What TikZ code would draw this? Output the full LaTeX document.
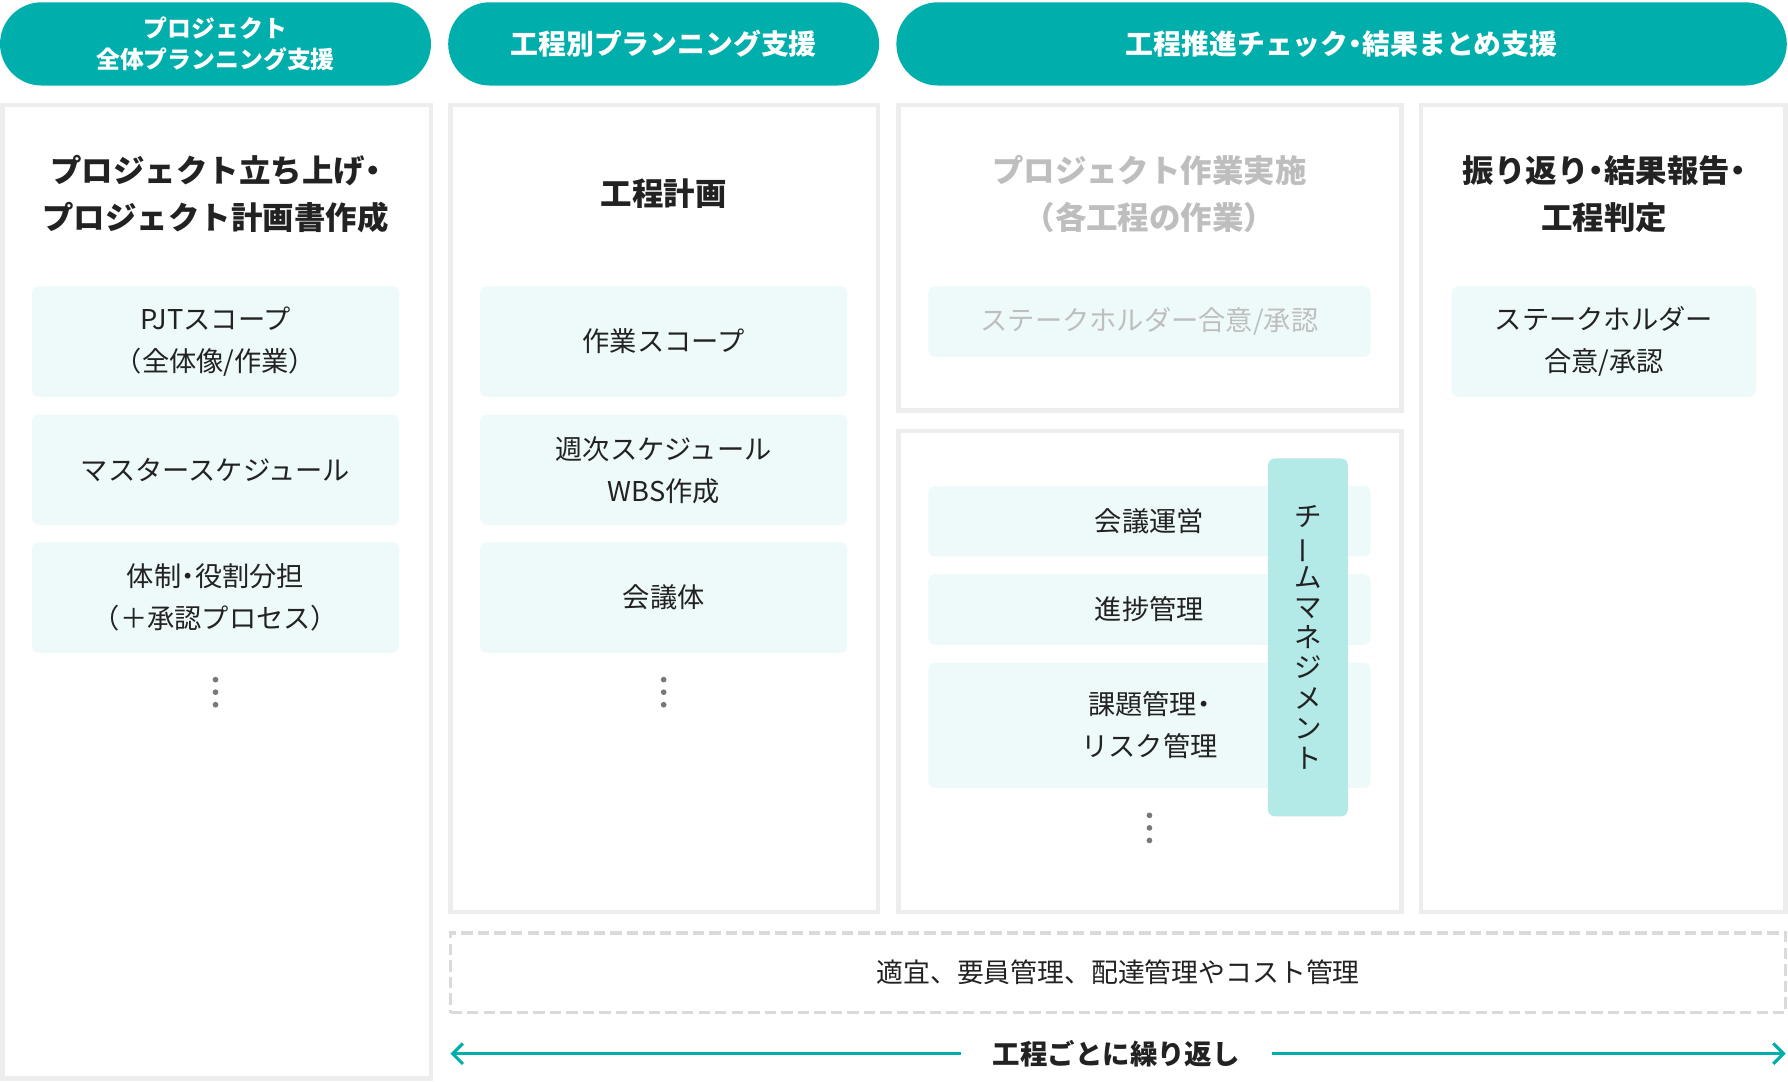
\documentclass[tikz,border=0pt]{standalone}
\usepackage{xcolor}
\usepackage{fontspec}
\setmainfont{Noto Sans CJK JP}
\usepackage{tikz}
\usetikzlibrary{arrows.meta}
\usetikzlibrary{positioning, shapes.misc, backgrounds}
\definecolor{pillteal}{RGB}{0, 174, 172}
\definecolor{barteal}{RGB}{179, 233, 231}
\definecolor{taskfill}{RGB}{238, 249, 249}
\definecolor{framegrey}{RGB}{236, 237, 236}
\definecolor{dashgrey}{RGB}{218, 218, 218}
\definecolor{inkgrey}{RGB}{34, 34, 34}
\definecolor{fadegrey}{RGB}{190, 190, 190}
\definecolor{dotgrey}{RGB}{120, 120, 120}
\newcommand{\tightdot}{{\addfontfeature{RawFeature=+palt}・}}
\tikzset{
phase pill/.style = { rectangle, draw = none, fill = pillteal, text = white, align = center, minimum height = 14.6mm, rounded corners = 7.3mm, font = \bfseries\fontsize{13.9}{16}\selectfont },
column box/.style = { rectangle, draw = framegrey, line width = 0.8mm, fill = white },
task box/.style = { rectangle, draw = none, fill = taskfill, text = inkgrey, align = center, rounded corners = 1.2mm, font = \fontsize{13.6}{21}\selectfont },
stage title/.style = { text = inkgrey, align = center, font = \bfseries\fontsize{15.7}{23.3}\selectfont },
team bar/.style = { rectangle, draw = none, fill = barteal, text = inkgrey, align = center, rounded corners = 1.2mm, minimum width = 14mm, minimum height = 62.8mm, font = \fontsize{13.7}{15.1}\selectfont },
side task/.style = { rectangle, draw = dashgrey, dash pattern = on 2mm off 0.9mm, line width = 0.6mm, text = inkgrey, font = \fontsize{13.4}{16}\selectfont },
repeat label/.style = { text = inkgrey, inner sep = 0pt, minimum width = 54.4mm, font = \bfseries\fontsize{13.7}{16}\selectfont },
repeat arrow/.style = { draw = pillteal, line width = 0.55mm, -{Straight Barb[length = 1.8mm, width = 3.6mm]} },
}
\tikzset{
pics/more dots/.style = {
        code = {
        \fill[dotgrey] (0, -11) circle (0.5mm);
        \fill[dotgrey] (0, 0) circle (0.5mm);
        \fill[dotgrey] (0, 11) circle (0.5mm);
        }
    }
}
\begin{document}
\begin{tikzpicture}[x = 0.02cm, y = -0.02cm]
    \useasboundingbox (0, 0) rectangle (1568, 948);
    % phase headers
    \node[phase pill, minimum width = 75.6mm, font = \bfseries\fontsize{11.9}{15.9}\selectfont] (pill plan) at (189, 38.5) {プロジェクト\\全体プランニング支援};
    \node[phase pill, minimum width = 75.6mm] (pill step) at (582, 38.5) {工程別プランニング支援};
    \node[phase pill, minimum width = 156.2mm] (pill check) at (1176.5, 38.5) {工程推進チェック\tightdot 結果まとめ支援};
    % columns
    \node[column box, minimum width = 75.2mm, minimum height = 170.8mm] (col start) at (190, 519) {};
    \node[column box, minimum width = 75mm, minimum height = 141.6mm] (col plan) at (582.5, 446) {};
    \node[column box, minimum width = 88.2mm, minimum height = 53.6mm] (col run) at (1008.5, 226) {};
    \node[column box, minimum width = 88.2mm, minimum height = 84.4mm] (col manage) at (1008.5, 589) {};
    \node[column box, minimum width = 64mm, minimum height = 141.6mm] (col review) at (1406, 446) {};
    % stage titles
    \node[stage title] (title start) at (189, 170) {プロジェクト立ち上げ\tightdot\\プロジェクト計画書作成};
    \node[stage title] (title plan) at (582, 170) {工程計画};
    \node[stage title, text = fadegrey] (title run) at (1008, 170) {プロジェクト作業実施\\（各工程の作業）};
    \node[stage title] (title review) at (1407, 170) {振り返り\tightdot 結果報告\tightdot\\工程判定};
    % project planning
    \node[task box, minimum width = 64.4mm, minimum height = 19.4mm] (scope pjt) at (189, 299.5) {PJTスコープ\\（全体像/作業）};
    \node[task box, minimum width = 64.4mm, minimum height = 19.4mm] (master plan) at (189, 412) {マスタースケジュール};
    \node[task box, minimum width = 64.4mm, minimum height = 19.4mm] (roles) at (189, 524) {体制\tightdot 役割分担\\（＋承認プロセス）};
    \draw (189, 607) pic{more dots};
    % step planning
    \node[task box, minimum width = 64.4mm, minimum height = 19.4mm] (scope work) at (582, 299.5) {作業スコープ};
    \node[task box, minimum width = 64.4mm, minimum height = 19.4mm] (weekly plan) at (582, 412) {週次スケジュール\\WBS作成};
    \node[task box, minimum width = 64.4mm, minimum height = 19.4mm] (meetings) at (582, 524) {会議体};
    \draw (582, 607) pic{more dots};
    % execution
    \node[task box, minimum width = 77.6mm, minimum height = 12.4mm, text = fadegrey] (consent run) at (1008, 282) {ステークホルダー合意/承認};
    \node[task box, minimum width = 77.6mm, minimum height = 12.4mm] (meeting ops) at (1008, 457) {会議運営};
    \node[task box, minimum width = 77.6mm, minimum height = 12.4mm] (progress) at (1008, 534.5) {進捗管理};
    \node[task box, minimum width = 77.6mm, minimum height = 22mm] (issues) at (1008, 636) {課題管理\tightdot\\リスク管理};
    \node[team bar] (team) at (1147, 559) {チ\\\rotatebox[origin=c]{90}{ー}\\ム\\マ\\ネ\\ジ\\メ\\ン\\ト};
    \draw (1008, 726) pic{more dots};
    % review
    \node[task box, minimum width = 53.4mm, minimum height = 19.4mm] (consent review) at (1406.5, 299.5) {ステークホルダー\\合意/承認};
    % bottom rows
    \node[side task, minimum width = 234.2mm, minimum height = 14mm] (side tasks) at (980.5, 853) {適宜、要員管理、配達管理やコスト管理};
    \node[repeat label] (repeat) at (979, 924) {工程ごとに繰り返し};
    \coordinate (repeat left) at (395, 924);
    \coordinate (repeat right) at (1566, 924);
    \draw[repeat arrow] (repeat.west) -- (repeat left);
    \draw[repeat arrow] (repeat.east) -- (repeat right);
\end{tikzpicture}
\end{document}
